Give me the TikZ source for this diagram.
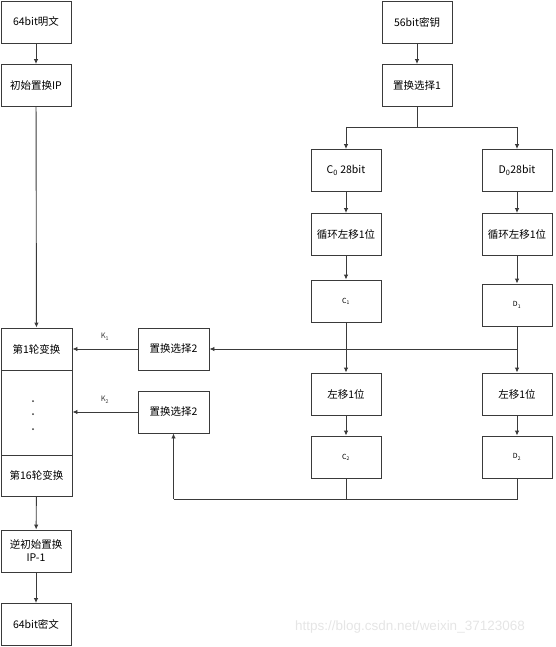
\documentclass[tikz,border=0pt]{standalone}
\usepackage{fontspec}
\setmainfont{Noto Sans CJK SC}
\newfontfamily\wmfont{Liberation Sans}
\usetikzlibrary{arrows.meta}
\definecolor{ln}{HTML}{3A3A3A}
\tikzset{
  bx/.style={draw=ln, line width=0.9pt, minimum width=70pt, minimum height=42pt, inner sep=0pt,
    font=\fontsize{10.5}{13}\selectfont, align=center},
  sm/.style={font=\fontsize{7}{8}\selectfont},
  conn/.style={draw=ln, line width=0.9pt},
  arr/.style={conn, -{Latex[length=5pt,width=4.5pt]}},
  lbl/.style={font=\fontsize{7.5}{9}\selectfont, text=ln}
}
\begin{document}
\begin{tikzpicture}[x=1pt,y=-1pt]
\useasboundingbox (0,0) rectangle (555,647);
% left column
\node[bx] (plain) at (36,22) {64bit明文};
\node[bx] (ip) at (36,85.5) {初始置换IP};
\node[bx, minimum width=71pt] (r1) at (36.5,349) {第1轮变换};
\node[bx, minimum width=71pt, minimum height=85pt] (mid) at (36.5,412.5) {};
\node[bx, minimum width=71pt, minimum height=41pt] (r16) at (36.5,475.5) {第16轮变换};
\node[bx] (inv) at (36,551) {逆初始置换\\IP-1};
\node[bx] (ciph) at (36,624.5) {64bit密文};
\fill[ln] (33,401) circle (1pt) (33,414) circle (1pt) (33,429) circle (1pt);
% key column
\node[bx] (key) at (417,22) {56bit密钥};
\node[bx] (pc1) at (417,85.5) {置换选择1};
\node[bx] (c0) at (346,170.5) {C\textsubscript{0} 28bit};
\node[bx] (d0) at (517,170.5) {D\textsubscript{0}28bit};
\node[bx] (l1c) at (346,234.5) {循环左移1位};
\node[bx] (l1d) at (517,234.5) {循环左移1位};
\node[bx, sm] (c1) at (346,301) {C\textsubscript{1}};
\node[bx, sm] (d1) at (517,305) {D\textsubscript{1}};
\node[bx] (l2c) at (346,394) {左移1位};
\node[bx] (l2d) at (517,394) {左移1位};
\node[bx, sm] (c2) at (346,457) {C\textsubscript{2}};
\node[bx, sm] (d2) at (517,457) {D\textsubscript{2}};
\node[bx, minimum width=71pt] (pc2a) at (173.5,349) {置换选择2};
\node[bx, minimum width=71pt] (pc2b) at (173.5,412) {置换选择2};
% coordinates
\coordinate (br) at (417,127);
\coordinate (brl) at (346,127);
\coordinate (brr) at (517,127);
\coordinate (j1) at (346,349);
\coordinate (j1r) at (517,349);
\coordinate (j2) at (346,499);
\coordinate (j2r) at (517,499);
\coordinate (j2l) at (173.5,499);
% connectors left
\draw[arr] (plain) -- (ip);
\draw[arr] (ip) -- (r1);
\draw[arr] (r16) -- (inv);
\draw[arr] (inv) -- (ciph);
% key side
\draw[arr] (key) -- (pc1);
\draw[conn] (pc1.south) -- (br);
\draw[conn] (brl) -- (brr);
\draw[arr] (brl) -- (c0);
\draw[arr] (brr) -- (d0);
\draw[arr] (c0) -- (l1c);
\draw[arr] (d0) -- (l1d);
\draw[arr] (l1c) -- (c1);
\draw[arr] (l1d) -- (d1);
\draw[conn] (c1.south) -- (j1);
\draw[conn] (d1.south) -- (j1r) -- (j1);
\draw[arr] (j1) -- (pc2a.east);
\draw[arr] (j1) -- (l2c);
\draw[arr] (j1r) -- (l2d);
\draw[arr] (l2c) -- (c2);
\draw[arr] (l2d) -- (d2);
\draw[conn] (c2.south) -- (j2);
\draw[conn] (d2.south) -- (j2r) -- (j2l);
\draw[arr] (j2l) -- (pc2b.south);
\draw[arr] (pc2a.west) -- (r1.east) node[lbl, midway, above=5pt] {K\textsubscript{1}};
\draw[arr] (pc2b.west) -- (pc2b.west -| mid.east) node[lbl, midway, above=5pt] {K\textsubscript{2}};
% watermark
\node[text=black!10, font=\wmfont\fontsize{13.5}{15}\selectfont] (wm) at (410,627) {https://blog.csdn.net/weixin\_37123068};
\end{tikzpicture}
\end{document}
